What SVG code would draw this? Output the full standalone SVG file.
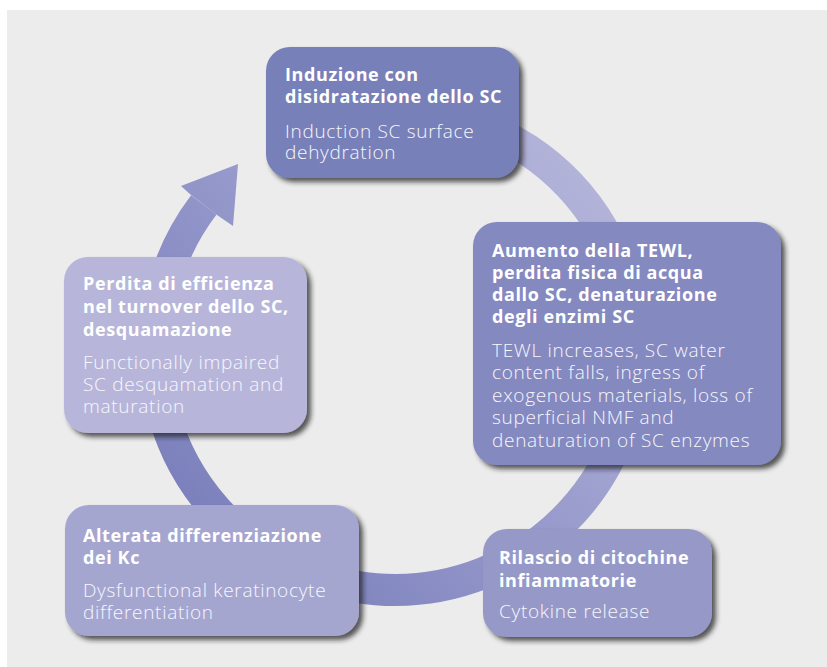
<svg xmlns="http://www.w3.org/2000/svg" width="827" height="667" viewBox="0 0 827 667">
<defs>
<linearGradient id="ringGrad" gradientUnits="userSpaceOnUse" x1="600" y1="150" x2="190" y2="500">
<stop offset="0" stop-color="#b6b6db"/>
<stop offset="1" stop-color="#7c81bd"/>
</linearGradient>
<filter id="shadow" x="-10%" y="-10%" width="125%" height="130%">
<feDropShadow dx="4" dy="4" stdDeviation="2.5" flood-color="#222" flood-opacity="0.75"/>
</filter>
<style>
.box{filter:url(#shadow);}
.h{font-family:"Open Sans","Noto Sans",sans-serif;font-weight:700;font-size:18px;fill:#ffffff;letter-spacing:0.6px;}
.b{font-family:"Open Sans","Noto Sans",sans-serif;font-weight:300;font-size:19px;fill:#f7f7fc;letter-spacing:0.7px;}
</style>
</defs>
<rect x="0" y="0" width="827" height="667" fill="#ffffff"/>
<rect x="7" y="10" width="820" height="657" fill="#ebeceb"/>
<g id="connectors">
<path d="M436.7,113.6 A240,240 0 1 1 203.8,204.9" fill="none" stroke="url(#ringGrad)" stroke-width="32"/>
<polygon points="191,195 181,186 238,164 233,226 217,215" fill="url(#ringGrad)"/>
</g>
<g id="node-induzione">
<rect class="box" x="266" y="47" width="253" height="131" rx="24" fill="#7880b9"/>
<text class="h" x="285" y="81">Induzione con</text>
<text class="h" x="285" y="103">disidratazione dello SC</text>
<text class="b" x="285" y="138">Induction SC surface</text>
<text class="b" x="285" y="159">dehydration</text>
</g>
<g id="node-tewl">
<rect class="box" x="473" y="222" width="308" height="243" rx="24" fill="#8489c0"/>
<text class="h" x="492" y="257">Aumento della TEWL,</text>
<text class="h" x="492" y="279">perdita fisica di acqua</text>
<text class="h" x="492" y="301">dallo SC, denaturazione</text>
<text class="h" x="492" y="323">degli enzimi SC</text>
<text class="b" x="492" y="357">TEWL increases, SC water</text>
<text class="b" x="492" y="379">content falls, ingress of</text>
<text class="b" x="492" y="402">exogenous materials, loss of</text>
<text class="b" x="492" y="424">superficial NMF and</text>
<text class="b" x="492" y="447">denaturation of SC enzymes</text>
</g>
<g id="node-citochine">
<rect class="box" x="483" y="529" width="229" height="108" rx="24" fill="#9699c8"/>
<text class="h" x="499" y="564">Rilascio di citochine</text>
<text class="h" x="499" y="587">infiammatorie</text>
<text class="b" x="499" y="618">Cytokine release</text>
</g>
<g id="node-differenziazione">
<rect class="box" x="65" y="505" width="294" height="131" rx="24" fill="#a5a6d0"/>
<text class="h" x="83" y="542">Alterata differenziazione</text>
<text class="h" x="83" y="564">dei Kc</text>
<text class="b" x="83" y="597">Dysfunctional keratinocyte</text>
<text class="b" x="83" y="619">differentiation</text>
</g>
<g id="node-perdita">
<rect class="box" x="64" y="257" width="243" height="176" rx="24" fill="#b7b6da"/>
<text class="h" x="83" y="290">Perdita di efficienza</text>
<text class="h" x="83" y="313">nel turnover dello SC,</text>
<text class="h" x="83" y="336">desquamazione</text>
<text class="b" x="83" y="369">Functionally impaired</text>
<text class="b" x="83" y="391">SC desquamation and</text>
<text class="b" x="83" y="413">maturation</text>
</g>
</svg>
